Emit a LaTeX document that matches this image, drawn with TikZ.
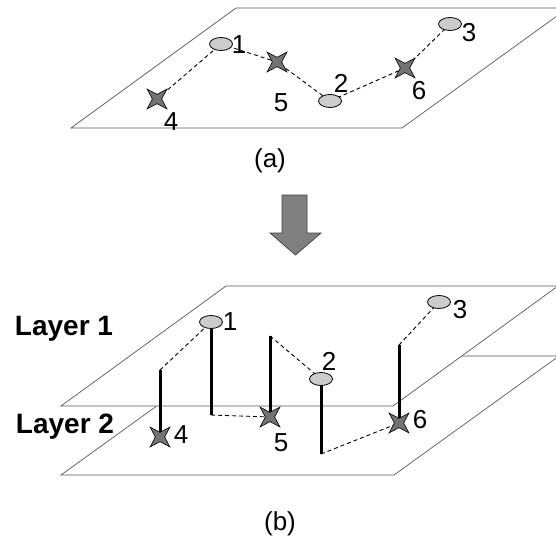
\documentclass[tikz,border=0pt]{standalone}
\usepackage{fontspec}
\setmainfont{Liberation Sans}
\usetikzlibrary{shapes.geometric}
\begin{document}
\begin{tikzpicture}[x=1pt,y=-1pt,
  plane/.style={draw=black!65,line width=0.7pt,fill=white},
  link/.style={dashed,dash pattern=on 4pt off 3pt,line width=0.9pt},
  bar/.style={line width=3pt},
  ell/.style={ellipse,draw=black,line width=0.8pt,fill=black!20,minimum width=23pt,minimum height=13pt,inner sep=0pt},
  stardot/.style={star,star points=4,star point ratio=3,minimum size=28pt,inner sep=0pt,shape border rotate=45,draw=black,line width=0.6pt,fill=black!55},
  num/.style={font=\fontsize{26}{26}\selectfont,inner sep=0pt},
  captext/.style={font=\fontsize{26}{26}\selectfont,inner sep=0pt},
  lay/.style={font=\fontsize{28}{28}\selectfont\bfseries,inner sep=0pt}]
\useasboundingbox (0,0) rectangle (556,540);
\begin{scope}
\clip (0,0) rectangle (556,540);
% (a) plane
\draw[plane] (71,128) -- (402,128) -- (568,8) -- (236,8) -- cycle;
% (b) planes
\draw[plane] (61,475) -- (394,475) -- (559,356) -- (226,356) -- cycle;
\draw[plane] (61,406) -- (393,406) -- (558,286) -- (226,286) -- cycle;
\end{scope}

% ---- (a) ----
\coordinate (pa1) at (221,44);
\coordinate (pa2) at (330,101);
\coordinate (pa3) at (450,24);
\coordinate (pa4) at (157,99);
\coordinate (pa5) at (277,62);
\coordinate (pa6) at (405,68);
\draw[link] (pa4) -- (pa1) -- (pa5) -- (pa2) -- (pa6) -- (pa3);
\node[ell] (a1) at (pa1) {};
\node[ell] (a2) at (pa2) {};
\node[ell] (a3) at (pa3) {};
\node[stardot] (a4) at (pa4) {};
\node[stardot] (a5) at (pa5) {};
\node[stardot] (a6) at (pa6) {};
\node[num] (la1) at (239,45) {1};
\node[num] (la2) at (341,83) {2};
\node[num] (la3) at (469,33) {3};
\node[num] (la4) at (171,122) {4};
\node[num] (la5) at (281,103) {5};
\node[num] (la6) at (419,91) {6};
\node[captext] (capa) at (270,161) {(a)};

% arrow
\draw[draw=black!75,line width=0.7pt,fill=black!50]
  (282,195) -- (307,195) -- (307,233) -- (321,233) -- (295.5,255) -- (270,233) -- (282,233) -- cycle;

% ---- (b) ----
\coordinate (pb1) at (211,322);
\coordinate (pb2) at (321,379);
\coordinate (pb3) at (439,302);
\coordinate (pb4) at (160,437);
\coordinate (pb5) at (270,417);
\coordinate (pb6) at (399,423);
\coordinate (t4) at (160,370);
\coordinate (f1) at (211,415);
\coordinate (t5) at (270,336);
\coordinate (f2) at (321,454);
\coordinate (t6) at (399,345);
\draw[link] (t4) -- (pb1);
\draw[link] (f1) -- (pb5);
\draw[link] (t5) -- (pb2);
\draw[link] (f2) -- (pb6);
\draw[link] (t6) -- (pb3);
\draw[bar] (t4) -- (pb4);
\draw[bar] (pb1) -- (f1);
\draw[bar] (t5) -- (pb5);
\draw[bar] (pb2) -- (f2);
\draw[bar] (t6) -- (pb6);
\node[ell] (b1) at (pb1) {};
\node[ell] (b2) at (pb2) {};
\node[ell] (b3) at (pb3) {};
\node[stardot] (b4) at (pb4) {};
\node[stardot] (b5) at (pb5) {};
\node[stardot] (b6) at (pb6) {};
\node[num] (lb1) at (230,322) {1};
\node[num] (lb2) at (329,361) {2};
\node[num] (lb3) at (460,310) {3};
\node[num] (lb4) at (181,435) {4};
\node[num] (lb5) at (281,443) {5};
\node[num] (lb6) at (420,420) {6};
\node[lay] (l1) at (64,329) {Layer 1};
\node[lay] (l2) at (65,427) {Layer 2};
\node[captext] (capb) at (280,524) {(b)};
\end{tikzpicture}
\end{document}
